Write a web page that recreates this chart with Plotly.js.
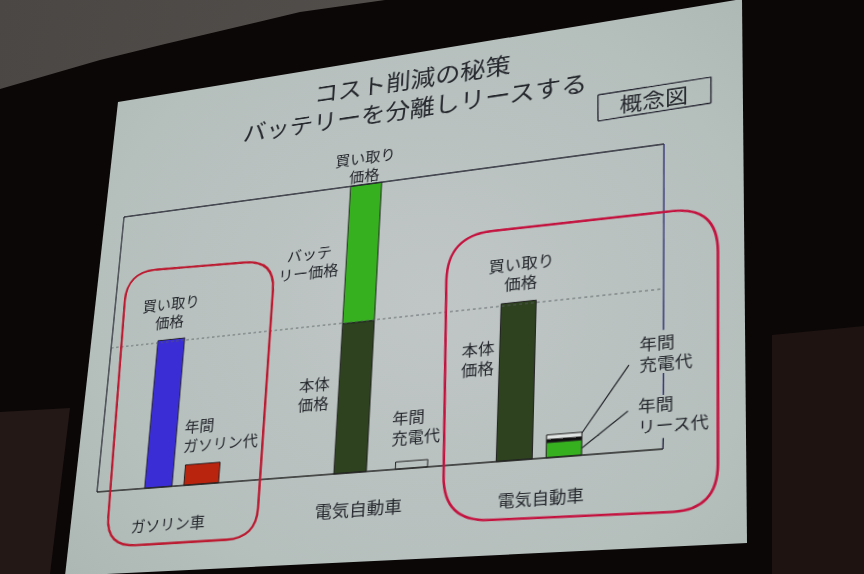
<!DOCTYPE html>
<html><head><meta charset="utf-8">
<script src="https://cdn.plot.ly/plotly-3.0.1.min.js"></script>
<style>
html,body{margin:0;padding:0;width:864px;height:574px;overflow:hidden;background:#0b0707}
.room{position:absolute;left:0;top:0;width:864px;height:574px}
#ceiling{background:linear-gradient(100deg,#4a4744,#5c5854);clip-path:polygon(0 0,385px 0,300px 12px,165px 44px,100px 60px,0 89px)}
#panelL{background:#231816;clip-path:polygon(0 412px,70px 408px,50px 574px,0 574px)}
#panelR{background:#1e1311;clip-path:polygon(772px 335px,864px 326px,864px 574px,772px 574px)}
#slide{background:radial-gradient(ellipse 480px 420px at 430px 300px,#c0c6c6,#b5bfbc 70%,#adb8b4);clip-path:polygon(118px 102px,742px -1px,747px 543px,65px 576px)}
#chart{position:absolute;left:0;top:0;transform-origin:0 0}
</style></head><body>
<div class="room" id="ceiling"></div>
<div class="room" id="panelL"></div>
<div class="room" id="panelR"></div>
<div class="room" id="slide"></div>
<div id="chart"></div>
<script>
// ---- data (frame height = 100) ----
const titleText = 'コスト削減の秘策<br>バッテリーを分離しリースする';
const noteText = '概念図';
const groupLabels = ['ガソリン車','電気自動車','電気自動車'];
const barNames  = ['買い取り価格','年間ガソリン代','本体価格','バッテリー価格','年間充電代','本体価格','年間リース代','区切り','年間充電代'];
const barValues = [52,7,51,49,2.4,52,4.9,0.9,1.5];
const barBases  = [0,0,0,51,0,0,0,4.9,5.8];
const referenceLevel = 51.2;

// ---- layout helpers ----
const barCentres = [12,20.2,47.6,47.6,58.4,75.9,84.1,84.1,84.1];
const barWidths  = [5.3,6.6,5.8,5.8,5.6,6,5.8,5.8,5.8];
const barColors  = ['#3a2dd6','#b9240f','#2e421f','#36b01f','rgba(0,0,0,0)','#2e421f','#36b01f','#0c0c0c','#dfe3e1'];

// perspective of the photographed slide: (u,v) frame coords -> page px
const g=-0.1099,h=0.04835,a=493.1,b=33.0,c=97,d=-92.3,e=-264.5,f=492;
function inv(x,y){ // page px -> axis coords
  const A=a-g*x,B=b-h*x,C=x-c,D=d-g*y,E=e-h*y,F=y-f,det=A*E-B*D;
  return [100*(C*E-B*F)/det,100*(A*F-C*D)/det];
}
const W=960,H=660,xR=[-30,130],yR=[-40,160];
const S=[[1.6/W,0,-0.3],[0,-2/H,1.6],[0,0,1]];
const M=[[a,b,c],[d,e,f],[g,h,1]];
const T=M.map(r=>[0,1,2].map(j=>r[0]*S[0][j]+r[1]*S[1][j]+r[2]*S[2][j]));
document.getElementById('chart').style.transform=
 'matrix3d('+[T[0][0],T[1][0],0,T[2][0],T[0][1],T[1][1],0,T[2][1],0,0,1,0,T[0][2],T[1][2],0,T[2][2]].join(',')+')';

function line(p,q,color,width,dash){
  const A=inv(p[0],p[1]),B=inv(q[0],q[1]);
  return {type:'line',xref:'x',yref:'y',x0:A[0],y0:A[1],x1:B[0],y1:B[1],layer:'above',
          line:{color:color,width:width,dash:dash||'solid'}};
}
function dataLine(x0,y0,x1,y1,color,width,dash){
  return {type:'line',xref:'x',yref:'y',x0,y0,x1,y1,layer:'above',line:{color,width,dash:dash||'solid'}};
}
function rounded(corners,r,color){
  let s='';
  const n=corners.length;
  for(let i=0;i<n;i++){
    const p=corners[i],q=corners[(i+1)%n],o=corners[(i+n-1)%n];
    const lerp=(A,B,L)=>{const D=Math.hypot(B[0]-A[0],B[1]-A[1]);return [A[0]+(B[0]-A[0])*L/D,A[1]+(B[1]-A[1])*L/D];};
    const st=inv(...lerp(p,o,r)),en=inv(...lerp(p,q,r)),cc=inv(p[0],p[1]);
    s+=(i?'L':'M')+st[0]+' '+st[1]+' Q'+cc[0]+' '+cc[1]+' '+en[0]+' '+en[1]+' ';
  }
  return {type:'path',xref:'x',yref:'y',path:s+'Z',layer:'above',line:{color:color,width:2.6},fillcolor:'rgba(0,0,0,0)'};
}
const ink='#25282d',frameC='#20202c',rightC='#2a2a70';
const shapes=[
 dataLine(0,100,100,100,frameC,1.3),
 dataLine(0,0,0,100,frameC,1.3),
 dataLine(0,0,100,0,'#222',1.5),
 dataLine(0,referenceLevel,100,referenceLevel,'#555a5c',0.9,'dot'),
 line([664,144],[663.6,330],rightC,1.3),
 line([663.6,373],[663.4,395],rightC,1.3),
 line([663.3,438],[663,449],'#222240',1.3),
 line([582,433],[629,365],'#23262a',1.3),
 line([582,448],[628,411],'#23262a',1.3),
 line([598,95],[711,77],frameC,1.3),
 line([711,77],[711,103],frameC,1.3),
 line([711,103],[598,121],frameC,1.3),
 line([598,121],[598,95],frameC,1.3),
 rounded([[127,272],[275,260],[256,538],[106,547]],30,'#bb1a30'),
 rounded([[447,236],[718,206],[718,510],[443,522]],46,'#c4123f')
];
function label(px,py,text,size,anchor,align){
  const p=inv(px,py);
  return {xref:'x',yref:'y',x:p[0],y:p[1],text,showarrow:false,xanchor:anchor||'center',yanchor:'middle',
          align:align||'center',font:{size:size||17,color:ink,family:'"Noto Sans CJK JP","Noto Sans",sans-serif'}};
}
const annotations=[
 label(410,93,titleText,27.5),
 label(654,99,noteText,23),
 label(170,312,'買い取り<br>価格'),
 label(182,436,'年間<br>ガソリン代',17,'left','left'),
 label(365,166,'買い取り<br>価格'),
 label(309,263,'バッテ<br>リー価格'),
 label(314,394,'本体<br>価格'),
 label(390,428,'年間<br>充電代',17,'left','left'),
 label(521,272,'買い取り<br>価格'),
 label(478,358,'本体<br>価格'),
 label(637,354,'年間<br>充電代',17,'left','left'),
 label(636,416,'年間<br>リース代',17,'left','left'),
 label(168,523,groupLabels[0]),
 label(358,508,groupLabels[1],18.5),
 label(540,497,groupLabels[2])
];
const traces=[{type:'bar',x:barCentres,y:barValues,base:barBases,width:barWidths,text:barNames,textposition:'none',
  hoverinfo:'text',marker:{color:barColors,line:{color:'#1c1c1c',width:1}},cliponaxis:false}];
Plotly.newPlot('chart',traces,{
  width:W,height:H,margin:{l:0,r:0,t:0,b:0},showlegend:false,barmode:'overlay',
  paper_bgcolor:'rgba(0,0,0,0)',plot_bgcolor:'rgba(0,0,0,0)',
  xaxis:{range:xR,visible:false,fixedrange:true},
  yaxis:{range:yR,visible:false,fixedrange:true},
  shapes,annotations
},{staticPlot:true,displayModeBar:false});
</script>
</body></html>
